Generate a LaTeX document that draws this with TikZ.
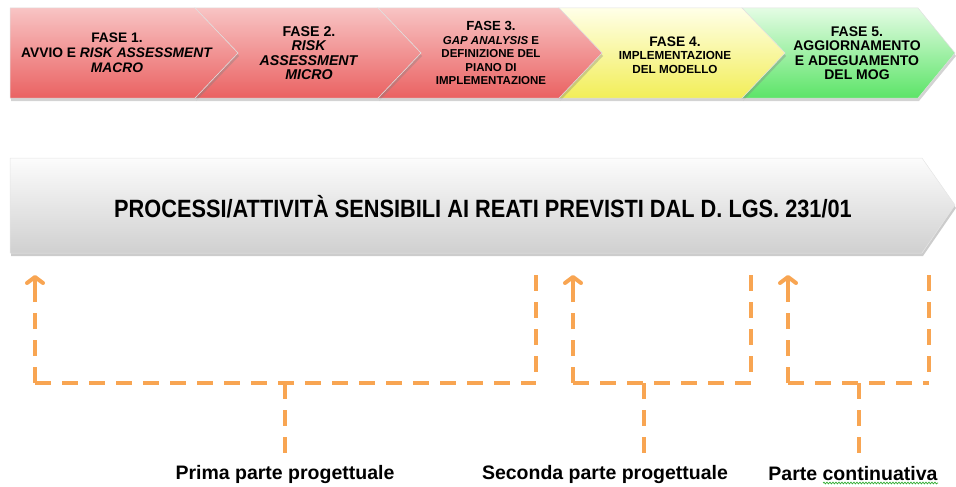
\documentclass[tikz,border=0pt]{standalone}
\usepackage{fontspec}
\setmainfont{Liberation Sans}
\newfontfamily\narrowfont[FakeStretch=0.87]{Liberation Sans}
\usetikzlibrary{arrows.meta,shadows,decorations.pathmorphing}
\definecolor{orline}{RGB}{248,165,82}
\definecolor{redtop}{RGB}{248,196,196}
\definecolor{redbot}{RGB}{234,98,98}
\definecolor{yeltop}{RGB}{255,255,232}
\definecolor{yelbot}{RGB}{242,238,88}
\definecolor{grntop}{RGB}{228,252,228}
\definecolor{grnbot}{RGB}{92,228,104}
\definecolor{gratop}{RGB}{252,252,252}
\definecolor{grabot}{RGB}{208,208,208}
\begin{document}
\begin{tikzpicture}[x=1pt,y=-1pt,
  chev/.style={drop shadow={shadow xshift=1pt,shadow yshift=-3pt,opacity=0.35},draw=black!12,line width=0.5pt},
  redchev/.style={chev,top color=redtop,bottom color=redbot},
  yelchev/.style={chev,top color=yeltop,bottom color=yelbot},
  grnchev/.style={chev,top color=grntop,bottom color=grnbot},
  bigarrow/.style={drop shadow={shadow xshift=1pt,shadow yshift=-3pt,opacity=0.4},draw=black!10,line width=0.5pt,top color=gratop,bottom color=grabot},
  phase/.style={align=center,inner sep=0pt,text=black},
  dl/.style={draw=orline,line width=4pt,dash pattern=on 16pt off 11pt},
  tipline/.style={draw=orline,line width=4pt,-{Straight Barb[length=6pt,width=16pt,line cap=round,line join=round]}},
  lab/.style={font=\fontsize{19.5}{22}\selectfont\bfseries,inner sep=0pt,text=black}
]
\useasboundingbox (0,0) rectangle (956,487);

% phase chevrons (right to left)
\path[grnchev] (742,8) -- (918,8) -- (955,53) -- (918,98) -- (742,98) -- (785,53) -- cycle;
\path[yelchev] (559,8) -- (742,8) -- (785,53) -- (742,98) -- (559,98) -- (602,53) -- cycle;
\path[redchev] (378,8) -- (559,8) -- (602,53) -- (559,98) -- (378,98) -- (421,53) -- cycle;
\path[redchev] (195,8) -- (378,8) -- (421,53) -- (378,98) -- (195,98) -- (238,53) -- cycle;
\path[redchev] (10,8) -- (195,8) -- (238,53) -- (195,98) -- (10,98) -- cycle;

\node[phase,font=\fontsize{13.8}{15}\selectfont\bfseries] (f1) at (117,53)
  {FASE 1.\\AVVIO E \textit{RISK ASSESSMENT}\\\textit{MACRO}};
\node[phase,font=\fontsize{14.2}{14.5}\selectfont\bfseries] (f2) at (309,53)
  {FASE 2.\\\textit{RISK}\\\textit{ASSESSMENT}\\\textit{MICRO}};
\node[phase,font=\fontsize{11.5}{13.5}\selectfont\bfseries] (f3) at (491,53)
  {{\fontsize{13.2}{13.5}\selectfont FASE 3.}\\\textit{GAP ANALYSIS} E\\DEFINIZIONE DEL\\PIANO DI\\IMPLEMENTAZIONE};
\node[phase,font=\fontsize{11.7}{13.5}\selectfont\bfseries] (f4) at (675,55)
  {{\fontsize{13.8}{13.5}\selectfont FASE 4.}\\IMPLEMENTAZIONE\\DEL MODELLO};
\node[phase,font=\fontsize{14}{14.5}\selectfont\bfseries] (f5) at (857,53)
  {FASE 5.\\AGGIORNAMENTO\\E ADEGUAMENTO\\DEL MOG};

% big process arrow
\path[bigarrow] (10,158) -- (922,158) -- (955,205) -- (922,253) -- (10,253) -- cycle;
\node[inner sep=0pt,font=\narrowfont\fontsize{25}{28}\selectfont\bfseries] (proc) at (483,207)
  {PROCESSI/ATTIVITÀ SENSIBILI AI REATI PREVISTI DAL D. LGS. 231/01};

% coordinates
\coordinate (a1) at (35,275);  \coordinate (t1) at (35,292);
\coordinate (b1) at (536,275); \coordinate (c1) at (536,383);
\coordinate (g1) at (35,383);
\coordinate (d1) at (285,383); \coordinate (e1) at (285,457);
\coordinate (a2) at (573,275); \coordinate (t2) at (573,292);
\coordinate (b2) at (751,275); \coordinate (c2) at (751,383);
\coordinate (g2) at (573,383);
\coordinate (d2) at (644,383); \coordinate (e2) at (644,457);
\coordinate (a3) at (788,275); \coordinate (t3) at (788,292);
\coordinate (b3) at (929,275); \coordinate (c3) at (929,383);
\coordinate (g3) at (788,383);
\coordinate (d3) at (859,383); \coordinate (e3) at (859,457);

% group 1
\draw[dl] (g1) -- (t1);
\draw[tipline] (t1) -- (a1);
\draw[dl] (g1) -- (c1);
\draw[dl] (b1) -- (c1);
\draw[dl] (d1) -- (e1);
% group 2
\draw[dl] (g2) -- (t2);
\draw[tipline] (t2) -- (a2);
\draw[dl] (g2) -- (c2);
\draw[dl] (b2) -- (c2);
\draw[dl] (d2) -- (e2);
% group 3
\draw[dl] (g3) -- (t3);
\draw[tipline] (t3) -- (a3);
\draw[dl] (g3) -- (c3);
\draw[dl] (b3) -- (c3);
\draw[dl] (d3) -- (e3);

\node[lab] (l1) at (285,474) {Prima parte progettuale};
\node[lab] (l2) at (605,474) {Seconda parte progettuale};
\node[lab] (l3) at (853,474) {Parte continuativa};
\coordinate (s1) at (823,483); \coordinate (s2) at (938,483);
\draw[green!60!black!80,line width=0.7pt,decorate,decoration={snake,amplitude=0.9pt,segment length=3pt}] (s1) -- (s2);
\end{tikzpicture}
\end{document}
